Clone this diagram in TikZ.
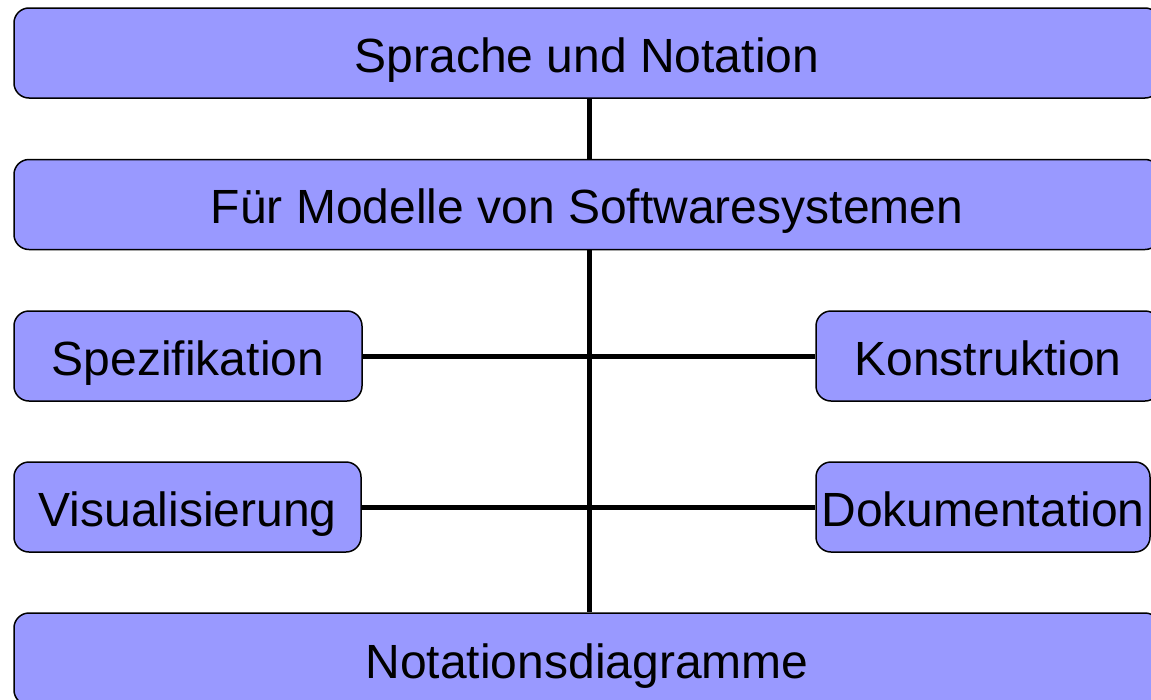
\documentclass[tikz,border=0pt]{standalone}
\usepackage{fontspec}
\setmainfont{Liberation Sans}
\definecolor{boxblue}{RGB}{153,153,255}
\begin{document}
\begin{tikzpicture}[x=1pt,y=-1pt,
		box/.style={draw,line width=1.5pt,fill=boxblue,rounded corners=15pt,inner sep=0pt,minimum height=90pt,text height=38pt,text depth=0pt,font=\fontsize{48}{57}\selectfont},
		link/.style={line width=5pt}]
		%Frame
			\useasboundingbox (0,0) rectangle (1151,699);
			\coordinate (spine) at (589,0);
		%Wide boxes
			\node[box,minimum width=1146pt] (sprache) at (587,53) {Sprache und Notation};
			\node[box,minimum width=1146pt] (modelle) at (587,204.5) {Für Modelle von Softwaresystemen};
			\node[box,minimum width=1146pt,minimum height=92pt] (notation) at (587,659) {Notationsdiagramme};
		%Side boxes
			\node[box,minimum width=348pt] (spez) at (188,356) {Spezifikation};
			\node[box,minimum width=347pt] (visu) at (187.5,507) {Visualisierung};
			\node[box,minimum width=344pt] (konstr) at (988,356) {Konstruktion};
			\node[box,minimum width=334pt] (doku) at (983,507) {Dokumentation};
		%Spine
			\draw[link] (sprache.south -| spine) -- (modelle.north -| spine);
			\draw[link] (modelle.south -| spine) -- (notation.north -| spine);
		%Branches
			\foreach \a/\b in {spez/konstr,visu/doku}
			{
				\draw[link] (\a) -- (\b);
			}
	\end{tikzpicture}
\end{document}
